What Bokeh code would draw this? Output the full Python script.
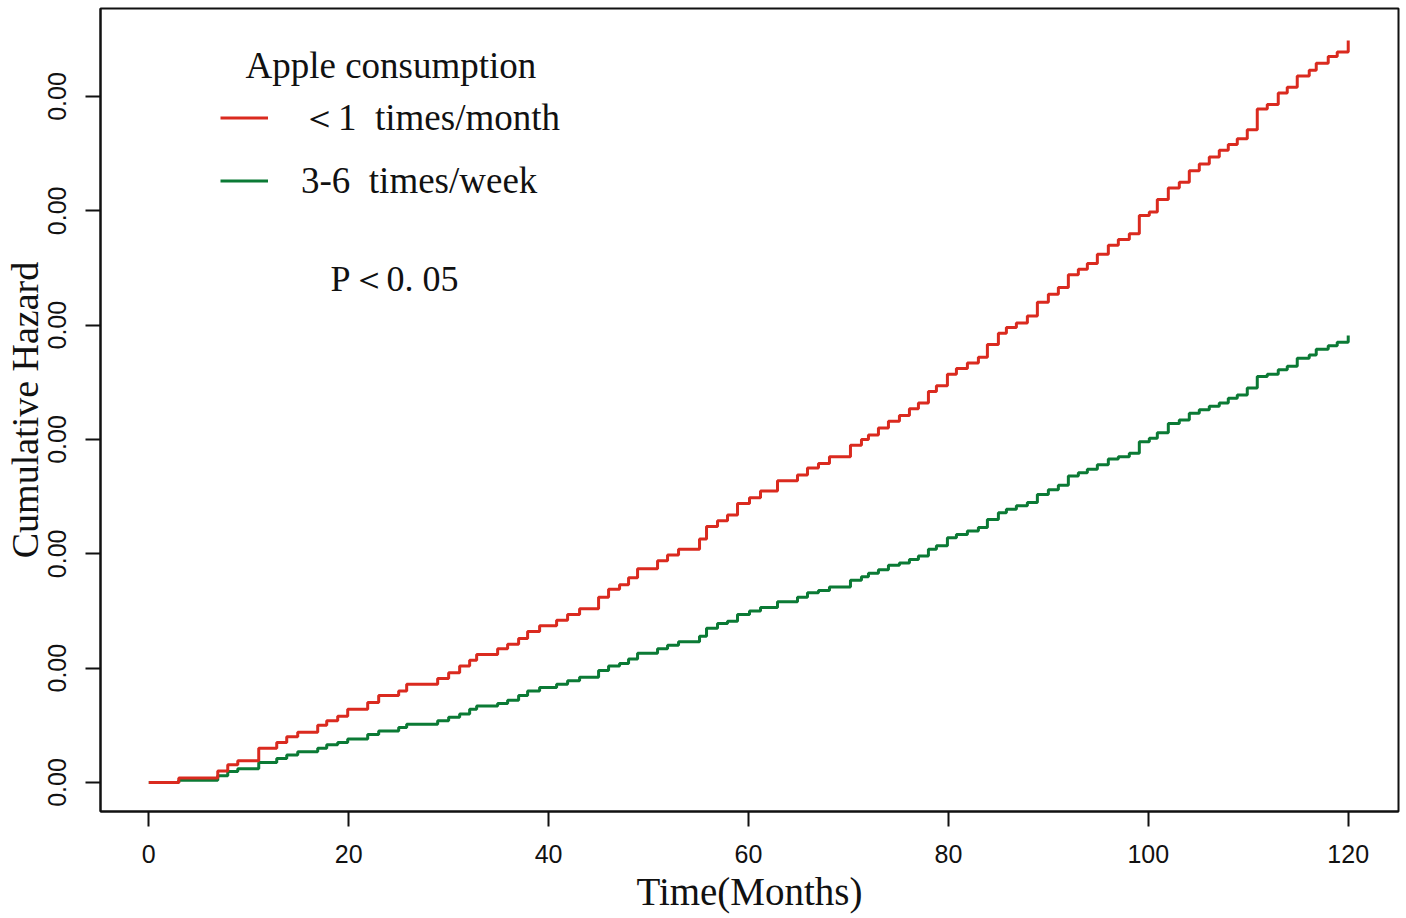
import math
from bokeh.plotting import figure
from bokeh.models import Range1d, FixedTicker, Label, Legend, LegendItem
from bokeh.embed import file_html
from bokeh.resources import INLINE

# ---- data ----
months = [0, 3.0, 6.9, 7.9, 8.9, 11.0, 12.8, 13.8, 14.9, 16.9, 17.8, 18.9, 19.9, 21.9,
          23.0, 25.0, 25.8, 28.9, 30.0, 31.1, 32.1, 32.8, 34.9, 35.9, 37.0, 37.9, 39.1,
          40.8, 41.9, 43.1, 45.0, 46.0, 47.1, 48.0, 48.9, 50.9, 51.9, 53.0, 55.1, 55.8,
          56.9, 57.9, 58.9, 60.1, 61.2, 62.9, 64.9, 65.9, 67.0, 68.1, 70.2, 71.3, 72.0,
          73.0, 74.0, 75.1, 76.1, 77.0, 78.0, 78.8, 79.9, 80.8, 81.9, 83.0, 83.9, 85.0,
          85.8, 86.8, 87.9, 88.9, 90.0, 91.0, 92.0, 93.0, 93.9, 94.9, 96.0, 97.0, 98.1,
          99.1, 100.1, 100.9, 102.0, 103.1, 104.1, 105.1, 106.1, 107.1, 108.0, 108.9,
          109.9, 110.9, 111.9, 113.0, 113.9, 114.9, 116.1, 116.8, 118.0, 118.9, 120.0]

# cumulative hazard, in thousandths
hazard_lt1_month = [0, 0.04, 0.10, 0.155, 0.19, 0.30, 0.35, 0.40, 0.44, 0.50, 0.54, 0.58,
                    0.64, 0.70, 0.76, 0.80, 0.86, 0.91, 0.96, 1.02, 1.07, 1.12, 1.17, 1.21,
                    1.26, 1.32, 1.37, 1.42, 1.47, 1.52, 1.62, 1.69, 1.73, 1.79, 1.87, 1.94,
                    1.99, 2.04, 2.13, 2.24, 2.29, 2.34, 2.44, 2.49, 2.55, 2.64, 2.69, 2.75,
                    2.79, 2.85, 2.95, 3.00, 3.04, 3.10, 3.16, 3.21, 3.27, 3.32, 3.42, 3.47,
                    3.57, 3.62, 3.67, 3.72, 3.83, 3.93, 3.98, 4.02, 4.08, 4.20, 4.27, 4.33,
                    4.44, 4.49, 4.54, 4.62, 4.70, 4.75, 4.80, 4.96, 4.99, 5.10, 5.20, 5.25,
                    5.35, 5.41, 5.47, 5.53, 5.58, 5.63, 5.71, 5.89, 5.93, 6.03, 6.08, 6.18,
                    6.23, 6.29, 6.35, 6.39, 6.49]
hazard_3to6_week = [0, 0.02, 0.06, 0.096, 0.12, 0.175, 0.21, 0.24, 0.27, 0.30, 0.33, 0.35,
                    0.38, 0.42, 0.45, 0.48, 0.51, 0.54, 0.57, 0.60, 0.64, 0.67, 0.69, 0.72,
                    0.76, 0.80, 0.83, 0.86, 0.89, 0.92, 0.98, 1.02, 1.04, 1.08, 1.13, 1.17,
                    1.20, 1.23, 1.28, 1.35, 1.39, 1.41, 1.47, 1.50, 1.53, 1.58, 1.62, 1.66,
                    1.68, 1.71, 1.77, 1.80, 1.83, 1.86, 1.90, 1.92, 1.95, 1.98, 2.04, 2.07,
                    2.14, 2.17, 2.20, 2.23, 2.30, 2.36, 2.39, 2.42, 2.45, 2.52, 2.56, 2.60,
                    2.68, 2.71, 2.74, 2.78, 2.83, 2.85, 2.88, 2.98, 3.01, 3.06, 3.14, 3.17,
                    3.23, 3.26, 3.29, 3.32, 3.36, 3.39, 3.45, 3.55, 3.57, 3.61, 3.64, 3.71,
                    3.74, 3.79, 3.82, 3.85, 3.91]

x_ticks = [0, 20, 40, 60, 80, 100, 120]
y_ticks = [0, 1, 2, 3, 4, 5, 6]          # thousandths
y_tick_labels = ["0.00", "0.00", "0.00", "0.00", "0.00", "0.00", "0.00"]

series_labels = ["＜1  times/month", "3-6  times/week"]
legend_title = "Apple  consumption"
p_text = "P＜0. 05"
x_title = "Time(Months)"
y_title = "Cumulative Hazard"

RED = "#DA2A1F"
GREEN = "#0B7A35"
INK = "#111111"
SERIF = "Liberation Serif"

SCALE = 0.001
red_y = [v * SCALE for v in hazard_lt1_month]
green_y = [v * SCALE for v in hazard_3to6_week]

p = figure(width=1400, height=918, output_backend="svg", toolbar_location=None,
           x_range=Range1d(-4.832, 125.03),
           y_range=Range1d(-0.2536 * SCALE, 6.7697 * SCALE),
           min_border_left=100, min_border_right=2, min_border_top=8, min_border_bottom=107)

p.background_fill_color = "white"
p.border_fill_color = "white"
p.outline_line_color = INK
p.outline_line_width = 2
p.grid.visible = False

g = p.step(months, green_y, mode="after", line_color=GREEN, line_width=3)
r = p.step(months, red_y, mode="after", line_color=RED, line_width=3)

for ax in (p.xaxis[0], p.yaxis[0]):
    ax.axis_line_color = INK
    ax.axis_line_width = 2
    ax.major_tick_line_color = INK
    ax.major_tick_line_width = 2
    ax.major_tick_out = 15
    ax.major_tick_in = 0
    ax.minor_tick_out = 0
    ax.minor_tick_in = 0
    ax.major_label_text_font = "Liberation Sans"
    ax.major_label_text_font_size = "25px"
    ax.major_label_text_color = INK
    ax.axis_label_text_font = SERIF
    ax.axis_label_text_font_style = "normal"
    ax.axis_label_text_color = INK

p.xaxis[0].ticker = FixedTicker(ticks=x_ticks)
p.xaxis[0].major_label_standoff = 18
p.xaxis[0].axis_label = x_title
p.xaxis[0].axis_label_text_font_size = "39px"
p.xaxis[0].axis_label_standoff = 4

p.yaxis[0].ticker = FixedTicker(ticks=[t * SCALE for t in y_ticks])
p.yaxis[0].major_label_overrides = {t * SCALE: lab for t, lab in zip(y_ticks, y_tick_labels)}
p.yaxis[0].major_label_orientation = "vertical"
p.yaxis[0].major_label_standoff = 19
p.yaxis[0].axis_label = y_title
p.yaxis[0].axis_label_text_font_size = "38px"
p.yaxis[0].axis_label_standoff = 0

# legend
p.add_layout(Label(x=145, y=746, x_units="screen", y_units="screen", text=legend_title,
                   text_font=SERIF, text_font_size="37px", text_color=INK,
                   text_align="left", text_baseline="alphabetic"))
legend = Legend(items=[LegendItem(label=series_labels[0], renderers=[r]),
                       LegendItem(label=series_labels[1], renderers=[g])],
                location=(120, 599), orientation="vertical",
                glyph_width=48, glyph_height=63, label_height=63, spacing=0,
                padding=0, margin=0, label_standoff=33,
                label_text_font=SERIF, label_text_font_size="37px",
                label_text_color=INK,
                border_line_alpha=0, background_fill_alpha=0)
p.add_layout(legend)

p.add_layout(Label(x=230, y=533, x_units="screen", y_units="screen", text=p_text,
                   text_font=SERIF, text_font_size="36px", text_color=INK,
                   text_align="left", text_baseline="alphabetic"))

open("out.html", "w").write(file_html(p, INLINE))
